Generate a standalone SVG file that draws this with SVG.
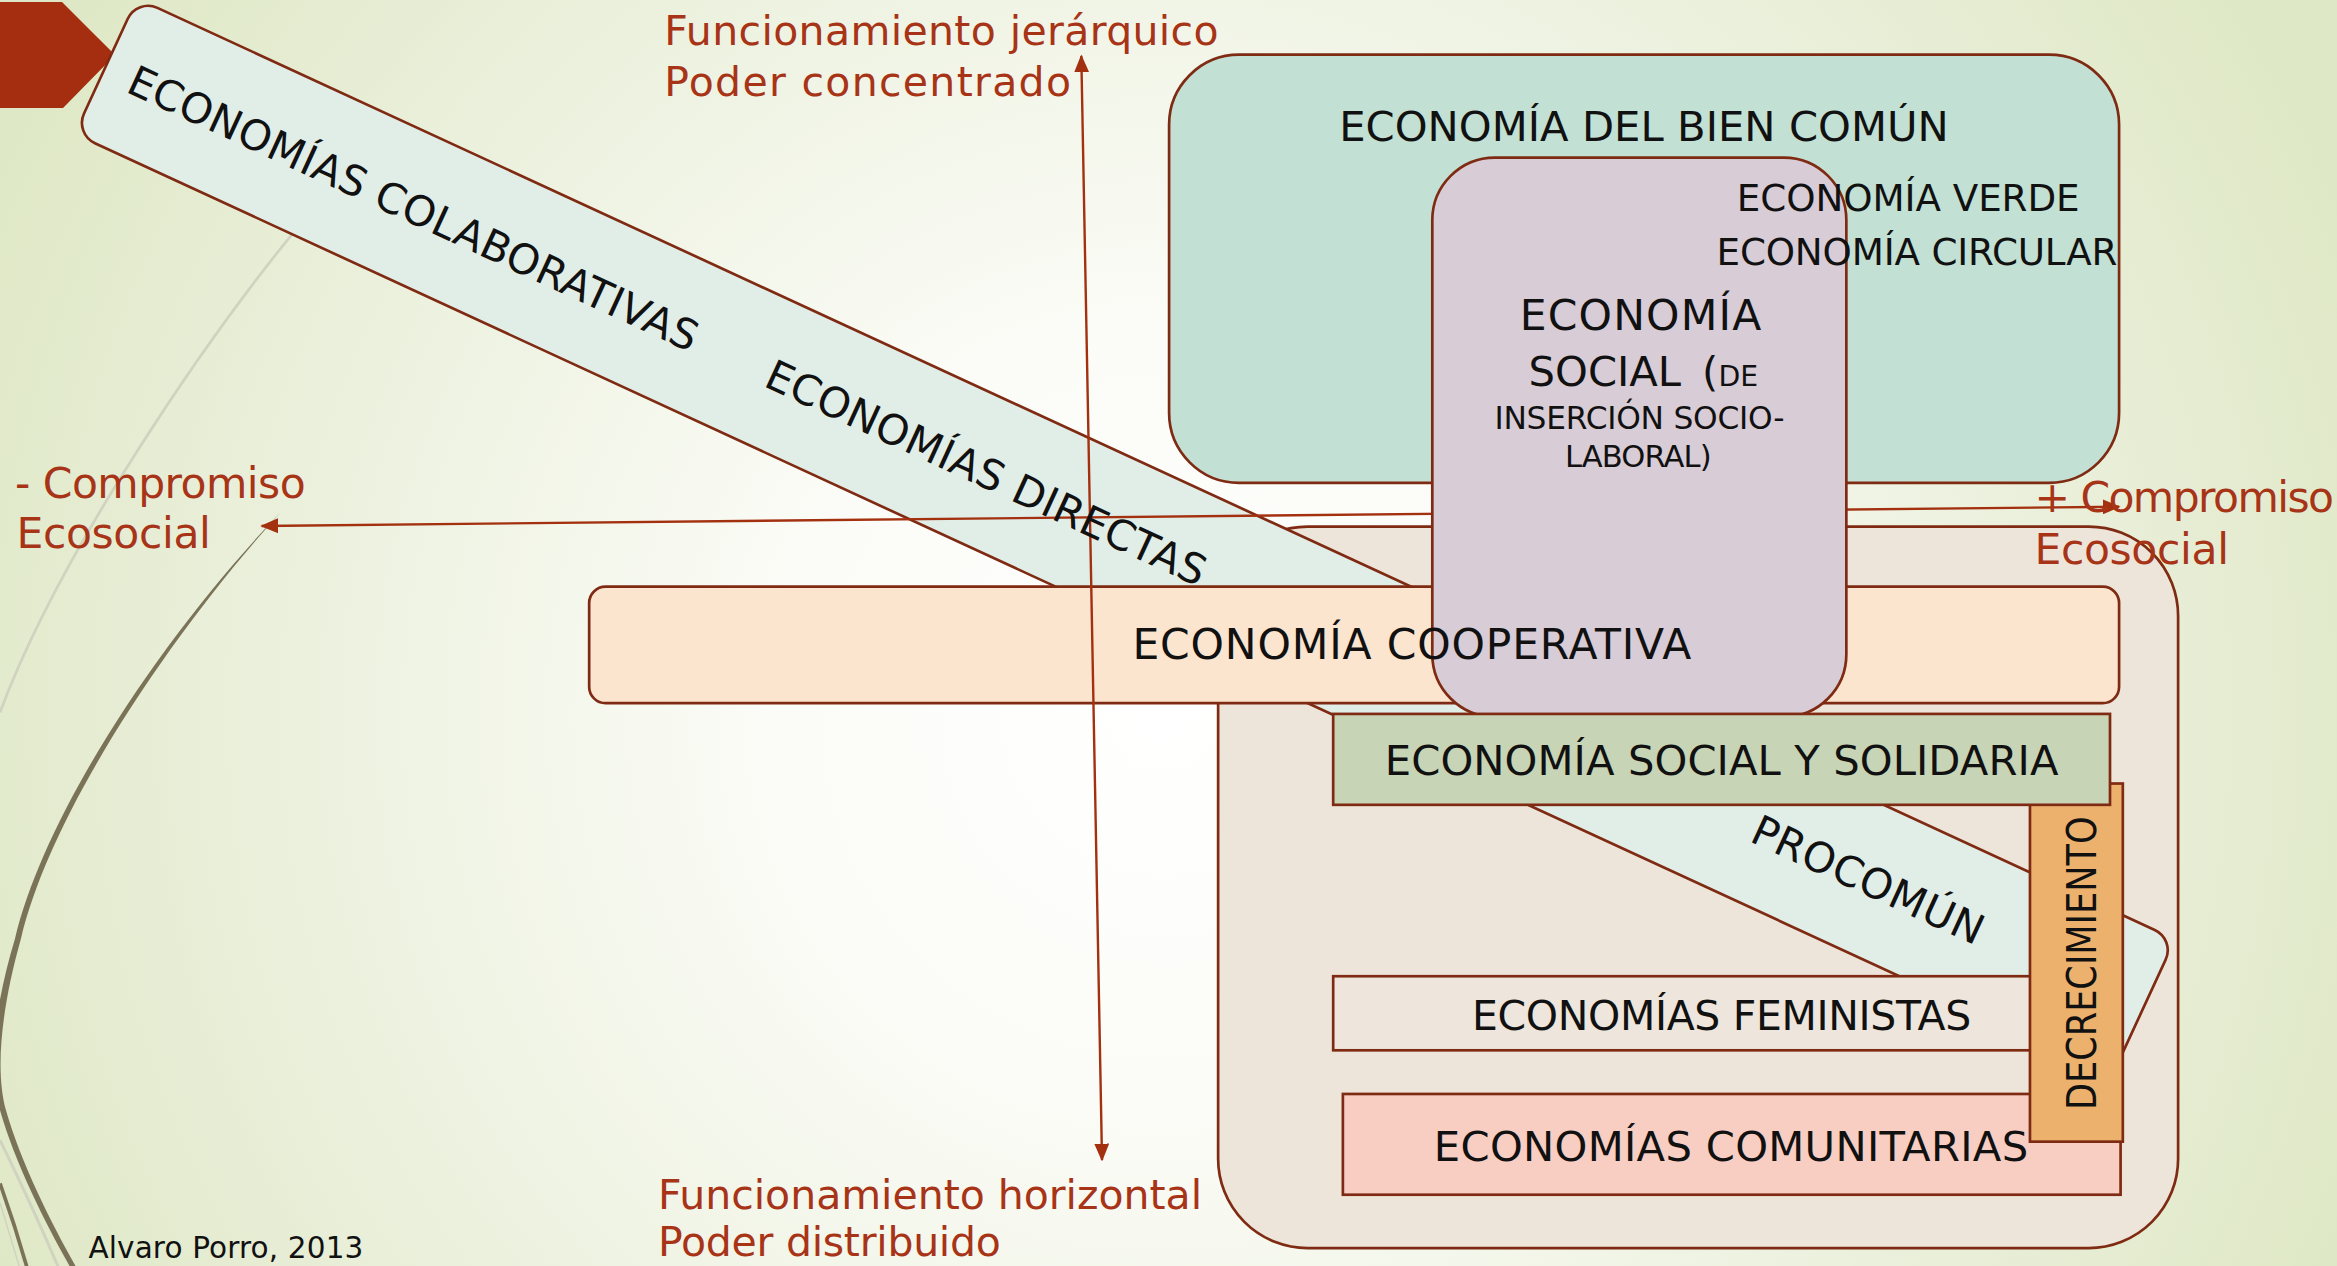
<svg xmlns="http://www.w3.org/2000/svg" width="2337" height="1266" viewBox="0 0 2337 1266">
<defs>
  <radialGradient id="bg" gradientUnits="userSpaceOnUse" cx="780" cy="480" r="860">
    <stop offset="0" stop-color="#ffffff"/>
    <stop offset="0.3" stop-color="#fbfcf7"/>
    <stop offset="0.7" stop-color="#ebf0dc"/>
    <stop offset="1" stop-color="#dfe8c6"/>
  </radialGradient>
  <marker id="ah" markerUnits="userSpaceOnUse" markerWidth="12" markerHeight="10" refX="11" refY="5" orient="auto-start-reverse" viewBox="0 0 12 10">
    <path d="M0,0 L12,5 L0,10 z" fill="#a3300f"/>
  </marker>
</defs>
<style>
  .box{stroke:#7f2a12;stroke-width:1.8}
  .lbl{font-family:"DejaVu Sans","Liberation Sans",sans-serif;fill:#111111}
  .red{font-family:"DejaVu Sans","Liberation Sans",sans-serif;fill:#a83418}
  .conn{stroke:#a3300f;stroke-width:1.6;fill:none}
  .deco-d{stroke:#7b7358;fill:none}
  .deco-l{stroke:#cfd3bf;fill:none}
</style>
<g transform="scale(1.49043)">
  <rect x="0" y="0" width="1570" height="852" fill="url(#bg)"/>

  <g id="decoration">
    <path class="deco-l" stroke-width="1.8" d="M201,151 C140,225 40,370 0,478"/>
    <path d="M188,344 C110,425 30,545 10,630 C-5,680 -8,720 0,745 C10,780 30,820 47,850 L51,850 C34,820 14,780 4,745 C-3,720 0,680 14,630 C34,545 114,426 188,344 Z" fill="#7b7358"/>
    <path class="deco-l" stroke-width="2" d="M0,765 Q22,810 39,850"/>
    <path class="deco-d" stroke-width="2.5" d="M0,794 Q10,822 18,850"/>
    <path class="deco-l" stroke-width="1" d="M0,807 Q7,830 13,850"/>
    <polygon points="0,1.3 41.6,1.3 77.2,36.9 42.3,72.5 0,72.5" fill="#a52d10"/>
  </g>

  <g id="node-procomun-container">
    <rect class="box" x="817.3" y="353.3" width="644.1" height="484.1" rx="60" fill="#ede5da"/>
  </g>

  <g id="node-band-colaborativas">
    <rect class="box" x="0" y="0" width="1506" height="100" rx="15" fill="#e1eee8" transform="translate(92,-1) rotate(24.78)"/>
  </g>

  <g id="node-bien-comun">
    <rect class="box" x="784.4" y="36.7" width="637.4" height="287.3" rx="47" fill="#c2e0d3"/>
  </g>

  <g id="node-cooperativa">
    <rect class="box" x="395.3" y="393.6" width="1026.5" height="78.2" rx="11" fill="#fbe5cf"/>
  </g>

  <g id="connectors">
    <path class="conn" d="M175.6,352.9 L1421.8,340" marker-start="url(#ah)" marker-end="url(#ah)"/>
    <path class="conn" d="M725.5,37.5 L739.4,778.3" marker-start="url(#ah)" marker-end="url(#ah)"/>
  </g>

  <g id="node-social">
    <rect class="box" x="961" y="105.7" width="277.8" height="375.3" rx="42" fill="#d8ccd6"/>
  </g>

  <g id="node-feministas">
    <rect class="box" x="894.5" y="655" width="485" height="49.7" fill="#eee6dc"/>
  </g>

  <g id="node-comunitarias">
    <rect class="box" x="901" y="734" width="521.8" height="67.6" fill="#f8cec3"/>
  </g>

  <g id="node-decrecimiento">
    <rect class="box" x="1362" y="525.7" width="62.3" height="240.3" fill="#edb16e"/>
  </g>

  <g id="node-ess">
    <rect class="box" x="894.5" y="479" width="521.2" height="61" fill="#c8d4b6"/>
  </g>

  <g id="labels">
    <g transform="translate(92,-1) rotate(24.78)">
      <text class="lbl" x="227.3" y="60" font-size="28" text-anchor="middle" textLength="418">ECONOMÍAS COLABORATIVAS</text>
      <text class="lbl" x="650.7" y="60" font-size="28" text-anchor="middle" textLength="322">ECONOMÍAS DIRECTAS</text>
      <text class="lbl" x="1302.3" y="60" font-size="28" text-anchor="middle" textLength="168">PROCOMÚN</text>
    </g>
    <text class="lbl" x="1103" y="94.6" font-size="28" text-anchor="middle" textLength="409">ECONOMÍA DEL BIEN COMÚN</text>
    <text class="lbl" x="1280.3" y="141.3" font-size="25" text-anchor="middle" textLength="230">ECONOMÍA VERDE</text>
    <text class="lbl" x="1286.2" y="178" font-size="25" text-anchor="middle" textLength="269">ECONOMÍA CIRCULAR</text>
    <text class="lbl" x="1100.7" y="221.2" font-size="28.5" text-anchor="middle" textLength="162">ECONOMÍA</text>
    <text class="lbl" y="258.7" font-size="28"><tspan x="1025.6">SOCIAL</tspan><tspan x="1142">(</tspan><tspan x="1153" font-size="19">DE</tspan></text>
    <text class="lbl" x="1100" y="287.9" font-size="21" text-anchor="middle" textLength="194.6">INSERCIÓN SOCIO-</text>
    <text class="lbl" x="1099.2" y="313" font-size="20.5" text-anchor="middle" textLength="98.5">LABORAL)</text>
    <text class="lbl" x="947.3" y="441.9" font-size="28.5" text-anchor="middle" textLength="375">ECONOMÍA COOPERATIVA</text>
    <text class="lbl" x="1155.1" y="520" font-size="28" text-anchor="middle" textLength="452">ECONOMÍA SOCIAL Y SOLIDARIA</text>
    <text class="lbl" x="1155.1" y="691" font-size="27.5" text-anchor="middle" textLength="335">ECONOMÍAS FEMINISTAS</text>
    <text class="lbl" x="1161.4" y="778.9" font-size="28" text-anchor="middle" textLength="398.8">ECONOMÍAS COMUNITARIAS</text>
    <text class="lbl" x="0" y="0" font-size="27" text-anchor="middle" textLength="197" lengthAdjust="spacingAndGlyphs" transform="translate(1406,646.3) rotate(-90)">DECRECIMIENTO</text>
    <text class="red" x="445.6" y="30" font-size="27.5" textLength="372">Funcionamiento jerárquico</text>
    <text class="red" x="445.6" y="64.5" font-size="27.5" textLength="273">Poder concentrado</text>
    <text class="red" x="441.5" y="811" font-size="27.5" textLength="365">Funcionamiento horizontal</text>
    <text class="red" x="441.5" y="842.5" font-size="27.5" textLength="230">Poder distribuido</text>
    <text class="red" x="10.1" y="334.4" font-size="28.5" textLength="195">- Compromiso</text>
    <text class="red" x="11" y="368" font-size="28.5" textLength="130.5">Ecosocial</text>
    <text class="red" x="1365" y="343.5" font-size="28.5" textLength="201">+ Compromiso</text>
    <text class="red" x="1365" y="378.3" font-size="28.5" textLength="130.5">Ecosocial</text>
    <text class="lbl" x="59.3" y="844.3" font-size="19.8" textLength="184.5">Alvaro Porro, 2013</text>
  </g>
</g>
</svg>
